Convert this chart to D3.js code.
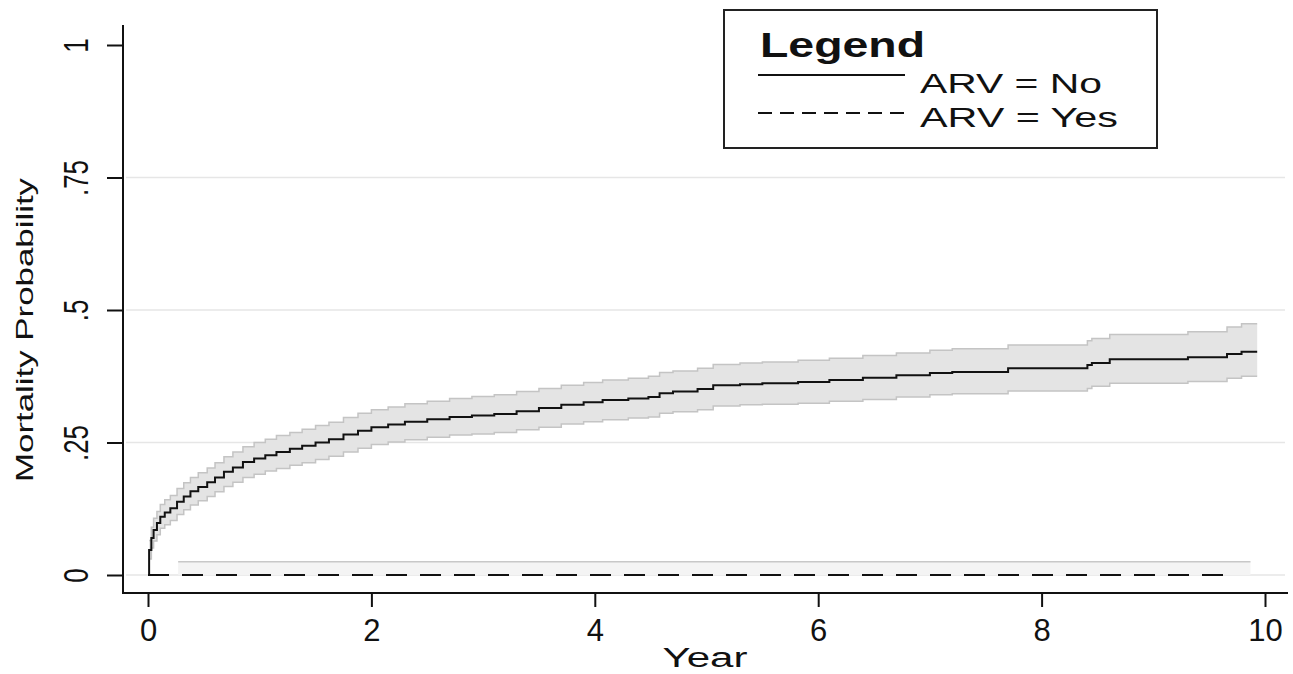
<!DOCTYPE html>
<html>
<head>
<meta charset="utf-8">
<script src="https://cdn.jsdelivr.net/npm/d3@7"></script>
<style>
  body { margin: 0; background: #fff; }
  text { font-family: "Liberation Sans", Arial, sans-serif; fill: #111; }
</style>
</head>
<body>
<svg id="chart" width="1293" height="674"></svg>
<script>
// ARV = No : cumulative mortality (step function) with 95% band
const noTime  = [0, 0.01, 0.03, 0.05, 0.08, 0.11, 0.15, 0.2, 0.26, 0.32, 0.38, 0.45, 0.53, 0.6, 0.68, 0.76, 0.85, 0.95, 1.05, 1.15, 1.27, 1.38, 1.5, 1.62, 1.75, 1.88, 2.0, 2.15, 2.3, 2.5, 2.7, 2.9, 3.1, 3.3, 3.5, 3.7, 3.9, 4.07, 4.3, 4.48, 4.58, 4.7, 4.92, 5.06, 5.3, 5.5, 5.82, 6.1, 6.4, 6.7, 7.0, 7.2, 7.7, 8.41, 8.45, 8.61, 9.31, 9.66, 9.79, 9.93];
const noFail  = [0, 0.047, 0.07, 0.085, 0.098, 0.11, 0.118, 0.126, 0.138, 0.148, 0.158, 0.166, 0.175, 0.184, 0.195, 0.203, 0.213, 0.22, 0.226, 0.232, 0.238, 0.244, 0.25, 0.256, 0.265, 0.272, 0.279, 0.284, 0.289, 0.294, 0.298, 0.301, 0.304, 0.309, 0.315, 0.321, 0.326, 0.33, 0.333, 0.336, 0.343, 0.346, 0.351, 0.358, 0.36, 0.362, 0.364, 0.368, 0.372, 0.377, 0.381, 0.383, 0.39, 0.396, 0.4, 0.407, 0.411, 0.417, 0.421, 0.421];
const noUpper = [0, 0.065, 0.09, 0.107, 0.12, 0.133, 0.142, 0.15, 0.163, 0.174, 0.184, 0.193, 0.202, 0.212, 0.223, 0.232, 0.242, 0.25, 0.256, 0.263, 0.269, 0.275, 0.282, 0.288, 0.297, 0.305, 0.312, 0.317, 0.323, 0.328, 0.333, 0.337, 0.34, 0.346, 0.352, 0.358, 0.363, 0.368, 0.371, 0.375, 0.382, 0.385, 0.39, 0.397, 0.4, 0.402, 0.405, 0.409, 0.414, 0.419, 0.424, 0.427, 0.434, 0.442, 0.446, 0.454, 0.459, 0.468, 0.474, 0.474];
const noLower = [0, 0.03, 0.051, 0.064, 0.076, 0.088, 0.095, 0.103, 0.114, 0.123, 0.132, 0.14, 0.148, 0.157, 0.167, 0.175, 0.184, 0.19, 0.196, 0.201, 0.207, 0.212, 0.218, 0.224, 0.232, 0.239, 0.246, 0.251, 0.255, 0.26, 0.264, 0.266, 0.269, 0.274, 0.279, 0.285, 0.289, 0.293, 0.296, 0.298, 0.305, 0.308, 0.312, 0.319, 0.321, 0.322, 0.324, 0.328, 0.331, 0.336, 0.34, 0.342, 0.347, 0.352, 0.356, 0.362, 0.365, 0.371, 0.375, 0.375];

// ARV = Yes : no deaths, flat line with a thin upper band
const yesTime = [0, 9.73];
const yesFail = [0, 0];
const yesBandTime = [0.27, 9.87];
const yesBandUpper = [0.025, 0.025];

const xTicks = [0, 2, 4, 6, 8, 10];
const yTicks = [0, 0.25, 0.5, 0.75, 1];
const yTickLabels = ["0", ".25", ".5", ".75", "1"];
const gridValues = [0, 0.25, 0.5, 0.75];
const legendLabels = ["ARV = No", "ARV = Yes"];

const svg = d3.select("#chart");

const x = d3.scaleLinear().domain([0, 10]).range([148, 1265]);
const y = d3.scaleLinear().domain([0, 1]).range([575, 45]);

// light grid lines
svg.selectAll(".grid")
  .data(gridValues)
  .enter().append("line")
  .attr("x1", 126).attr("x2", 1285)
  .attr("y1", d => y(d)).attr("y2", d => y(d))
  .attr("stroke", "#e6e6e6")
  .attr("stroke-width", 1.5);

const noData = noTime.map((t, i) => ({ t, f: noFail[i], lo: noLower[i], hi: noUpper[i] }));

// confidence band for ARV = No
svg.append("path")
  .datum(noData.slice(1))
  .attr("d", d3.area().curve(d3.curveStepAfter)
    .x(d => x(d.t)).y0(d => y(d.lo)).y1(d => y(d.hi)))
  .attr("fill", "#e4e4e4");

["hi", "lo"].forEach(k => {
  svg.append("path")
    .datum(noData.slice(1))
    .attr("d", d3.line().curve(d3.curveStepAfter).x(d => x(d.t)).y(d => y(d[k])))
    .attr("fill", "none")
    .attr("stroke", "#c4c4c4")
    .attr("stroke-width", 1.5);
});

// band for ARV = Yes
const yesBand = yesBandTime.map((t, i) => ({ t, hi: yesBandUpper[i] }));
svg.append("path")
  .datum(yesBand)
  .attr("d", d3.area().x(d => x(d.t)).y0(y(0)).y1(d => y(d.hi)))
  .attr("fill", "#f4f4f4");
svg.append("path")
  .datum(yesBand)
  .attr("d", d3.line().x(d => x(d.t)).y(d => y(d.hi)))
  .attr("fill", "none")
  .attr("stroke", "#c8c8c8")
  .attr("stroke-width", 1.5);

// ARV = Yes line (dashed)
svg.append("path")
  .datum(yesTime.map((t, i) => ({ t, f: yesFail[i] })))
  .attr("d", d3.line().x(d => x(d.t)).y(d => y(d.f)))
  .attr("fill", "none")
  .attr("stroke", "#111")
  .attr("stroke-width", 2)
  .attr("stroke-dasharray", "21,13");

// ARV = No line (solid step)
svg.append("path")
  .datum(noData)
  .attr("d", d3.line().curve(d3.curveStepAfter).x(d => x(d.t)).y(d => y(d.f)))
  .attr("fill", "none")
  .attr("stroke", "#111")
  .attr("stroke-width", 2);

// axis lines
svg.append("line")
  .attr("x1", 123).attr("x2", 123).attr("y1", 25).attr("y2", 594)
  .attr("stroke", "#111").attr("stroke-width", 2);
svg.append("line")
  .attr("x1", 122).attr("x2", 1288).attr("y1", 593).attr("y2", 593)
  .attr("stroke", "#111").attr("stroke-width", 2);

// x axis ticks + labels
const xAxis = svg.append("g")
  .attr("transform", "translate(0,593)")
  .call(d3.axisBottom(x).tickValues(xTicks).tickSize(14).tickSizeOuter(0).tickPadding(20).tickFormat(d3.format("d")));
xAxis.select(".domain").remove();
xAxis.selectAll(".tick line").attr("stroke", "#111").attr("stroke-width", 2);
xAxis.selectAll(".tick text")
  .attr("font-family", "Liberation Sans, Arial, sans-serif")
  .attr("font-size", 31)
  .attr("fill", "#111")
  .attr("dy", null)
  .attr("y", 48);

// y axis ticks + rotated labels
const yAxis = svg.append("g")
  .attr("transform", "translate(123,0)")
  .call(d3.axisLeft(y).tickValues(yTicks).tickSize(16).tickSizeOuter(0).tickFormat((d, i) => yTickLabels[i]));
yAxis.select(".domain").remove();
yAxis.selectAll(".tick line").attr("stroke", "#111").attr("stroke-width", 2);
yAxis.selectAll(".tick text")
  .attr("font-family", "Liberation Sans, Arial, sans-serif")
  .attr("font-size", 36)
  .attr("fill", "#111")
  .attr("text-anchor", "middle")
  .attr("x", null).attr("dy", null)
  .attr("transform", "translate(-35,0) rotate(-90) scale(0.72,1)");

// axis titles
svg.append("text")
  .attr("x", 705).attr("y", 667)
  .attr("text-anchor", "middle")
  .attr("font-size", 27)
  .attr("textLength", 85).attr("lengthAdjust", "spacingAndGlyphs")
  .text("Year");

svg.append("text")
  .attr("transform", "translate(33,330) rotate(-90)")
  .attr("text-anchor", "middle")
  .attr("font-size", 24)
  .attr("textLength", 304).attr("lengthAdjust", "spacingAndGlyphs")
  .text("Mortality Probability");

// legend
const legend = svg.append("g");
legend.append("rect")
  .attr("x", 724).attr("y", 10).attr("width", 433).attr("height", 138)
  .attr("fill", "#fff").attr("stroke", "#222").attr("stroke-width", 2);
legend.append("text")
  .attr("x", 760).attr("y", 57)
  .attr("font-size", 35).attr("font-weight", "bold")
  .attr("textLength", 165).attr("lengthAdjust", "spacingAndGlyphs")
  .text("Legend");

const legendY = [75, 113];
const legendTextY = [93, 127];
const legendTextLen = [182, 198];
const legendDash = [null, "14,8"];
legendLabels.forEach((lab, i) => {
  legend.append("line")
    .attr("x1", 758).attr("x2", 905)
    .attr("y1", legendY[i]).attr("y2", legendY[i])
    .attr("stroke", "#111").attr("stroke-width", 2)
    .attr("stroke-dasharray", legendDash[i]);
  legend.append("text")
    .attr("x", 920).attr("y", legendTextY[i])
    .attr("font-size", 28)
    .attr("textLength", legendTextLen[i]).attr("lengthAdjust", "spacingAndGlyphs")
    .text(lab);
});
</script>
</body>
</html>
